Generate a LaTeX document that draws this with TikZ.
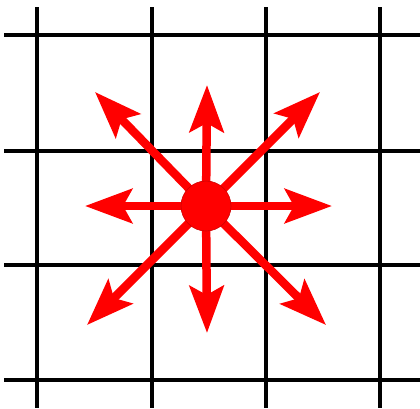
\documentclass[tikz,border=0pt]{standalone}
\usetikzlibrary{arrows.meta}

\begin{document}
\begin{tikzpicture}[x=1pt,y=-1pt,line join=round]
  \definecolor{gridink}{RGB}{0,0,0}
  \definecolor{spread}{RGB}{255,0,0}
  \tikzset{
    gridline/.style={draw=gridink,line width=3.6pt},
    ray/.style={draw=spread,line width=8.5pt,
      -{Stealth[length=47pt,width=34pt,inset=9pt]}},
    hub/.style={circle,fill=spread,draw=spread!80!black,line width=0.6pt,
      minimum size=50pt,inner sep=0pt}
  }

  % page frame
  \useasboundingbox (0,0) rectangle (420,408);
  \fill[white] (0,0) rectangle (420,408);

  % grid lines
  \foreach \gx in {37,152,266,380}
    \draw[gridline] (\gx,7) -- (\gx,408);
  \foreach \gy in {35,151,265,380}
    \draw[gridline] (4,\gy) -- (420,\gy);

  % centre and arrow tips
  \coordinate (o) at (206,206);
  \coordinate (n) at (207,85);
  \coordinate (s) at (207,333);
  \coordinate (w) at (85,206);
  \coordinate (e) at (332,206);
  \coordinate (nw) at (95,92);
  \coordinate (ne) at (320,92);
  \coordinate (sw) at (87,325);
  \coordinate (se) at (326,325);

  % arrows out of the centre
  \foreach \tip in {n,s,w,e,nw,ne,sw,se}
    \draw[ray] (o) -- (\tip);

  % dot
  \node[hub] (dot) at (o) {};
\end{tikzpicture}
\end{document}
